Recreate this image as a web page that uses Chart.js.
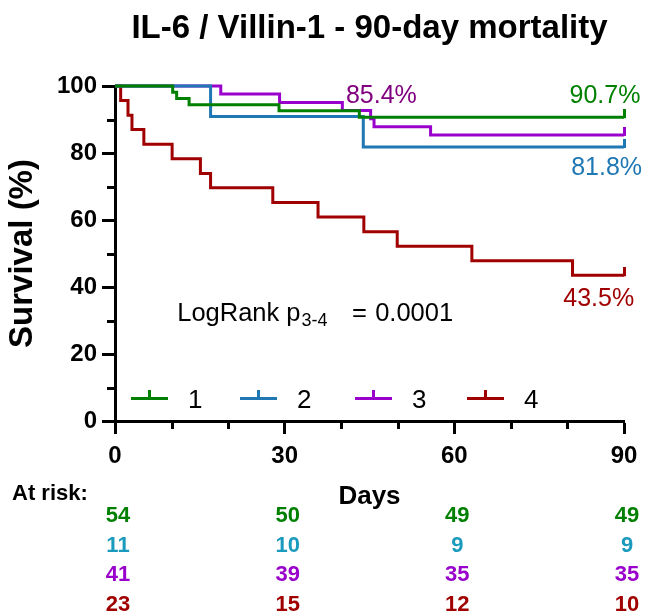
<!DOCTYPE html>
<html>
<head>
<meta charset="utf-8">
<script src="https://cdn.jsdelivr.net/npm/chart.js@4"></script>
<style>
  html, body { margin: 0; padding: 0; background: #fff; }
</style>
</head>
<body>
<canvas id="km" width="649" height="613"></canvas>
<script>
// Kaplan-Meier data (day, survival %)
const groupNames = ['1', '2', '3', '4'];
const groupColors = ['#008000', '#1f77b4', '#9900cc', '#a00000'];

const days1 = [0, 10.2, 10.9, 13.1, 29.0, 43.2, 90];
const surv1 = [100, 98.1, 96.3, 94.4, 92.6, 90.7, 90.7];

const days2 = [0, 16.9, 43.9, 90];
const surv2 = [100, 90.9, 81.8, 81.8];

const days3 = [0, 18.7, 29.1, 40.2, 45.2, 45.8, 55.8, 90];
const surv3 = [100, 97.6, 95.1, 92.7, 90.2, 87.8, 85.4, 85.4];

const days4 = [0, 1.0, 2.3, 3.0, 5.1, 10.1, 15.1, 16.9, 27.9, 35.9, 44.0, 49.9, 63.1, 80.9, 90];
const surv4 = [100, 95.7, 91.3, 87.0, 82.6, 78.3, 73.9, 69.6, 65.2, 60.9, 56.5, 52.2, 47.8, 43.5, 43.5];

const finalLabels = ['90.7%', '81.8%', '85.4%', '43.5%'];

const riskDays = [0, 30, 60, 90];
const risk1 = [54, 50, 49, 49];
const risk2 = [11, 10, 9, 9];
const risk3 = [41, 39, 35, 35];
const risk4 = [23, 15, 12, 10];

const xTicks = [0, 30, 60, 90];
const yTicks = [0, 20, 40, 60, 80, 100];

const FONT = '"Liberation Sans", Arial, sans-serif';
Chart.defaults.font.family = FONT;
Chart.defaults.color = '#000';

function toPoints(days, surv) {
    return days.map((d, i) => ({ x: d, y: surv[i] }));
}

// small vertical tick used as censor mark at the end of each curve
function censorMark(color) {
    const c = document.createElement('canvas');
    c.width = 3;
    c.height = 16;
    const g = c.getContext('2d');
    g.fillStyle = color;
    g.fillRect(0, 0, 3, 9);
    return c;
}

function makeSet(i, days, surv) {
    const last = days.length - 1;
    const mark = censorMark(groupColors[i]);
    return {
        label: groupNames[i],
        data: toPoints(days, surv),
        borderColor: groupColors[i],
        backgroundColor: groupColors[i],
        borderWidth: 3,
        stepped: 'before',
        fill: false,
        clip: false,
        pointStyle: mark,
        pointRadius: c => c.dataIndex === last ? 3 : 0,
        pointHoverRadius: 0
    };
}

// where the end-of-curve labels sit: [day, survival, align, colour]
const finalLabelPos = [
    [92.9, 94.9, 'right', '#008000'],
    [93.2, 73.4, 'right', '#1f77b4'],
    [47.1, 95.0, 'center', '#800080'],
    [91.8, 34.3, 'right', '#a00000']
];
const legendPos = [2.9, 22.1, 42.4, 62.3];
const riskColors = ['#008000', '#1a9bbe', '#9900cc', '#a00000'];

const overlay = {
    id: 'overlay',
    afterDraw(chart) {
        const { ctx, chartArea, scales } = chart;
        const x = scales.x, y = scales.y;
        ctx.save();

        // minor ticks
        ctx.strokeStyle = '#000';
        ctx.lineWidth = 3;
        ctx.beginPath();
        for (let v = 10; v < 100; v += 20) {
            const py = Math.round(y.getPixelForValue(v)) + 0.5;
            ctx.moveTo(chartArea.left - 8, py);
            ctx.lineTo(chartArea.left, py);
        }
        for (let v = 10; v < 90; v += 10) {
            if (v % 30 === 0) continue;
            const px = Math.round(x.getPixelForValue(v)) + 0.5;
            ctx.moveTo(px, chartArea.bottom);
            ctx.lineTo(px, chartArea.bottom + 8);
        }
        ctx.stroke();

        // final survival labels
        ctx.font = '25px ' + FONT;
        ctx.textBaseline = 'alphabetic';
        finalLabels.forEach((t, i) => {
            const p = finalLabelPos[i];
            ctx.fillStyle = p[3];
            ctx.textAlign = p[2];
            ctx.fillText(t, x.getPixelForValue(p[0]), y.getPixelForValue(p[1]));
        });

        // log-rank annotation
        let lx = x.getPixelForValue(11.0);
        const ly = y.getPixelForValue(29.9);
        ctx.fillStyle = '#000';
        ctx.textAlign = 'left';
        ctx.font = '25.5px ' + FONT;
        ctx.fillText('LogRank p', lx, ly);
        lx += ctx.measureText('LogRank p').width + 1;
        ctx.font = '18px ' + FONT;
        ctx.fillText('3-4', lx, ly + 5);
        ctx.font = '25.5px ' + FONT;
        ctx.fillText('=', x.getPixelForValue(41.9), ly);
        ctx.fillText('0.0001', x.getPixelForValue(46.0), ly);

        // legend inside plot
        const legY = Math.round(y.getPixelForValue(7));
        groupNames.forEach((n, i) => {
            const sx = Math.round(x.getPixelForValue(legendPos[i]));
            ctx.fillStyle = groupColors[i];
            ctx.fillRect(sx, legY - 1, 37, 3);
            ctx.fillRect(sx + 17, legY - 8, 3, 8);
            ctx.fillStyle = '#000';
            ctx.font = '26px ' + FONT;
            ctx.textAlign = 'left';
            ctx.fillText(n, sx + 57, legY + 10);
        });

        // number at risk table
        ctx.font = 'bold 22px ' + FONT;
        ctx.textAlign = 'left';
        ctx.fillStyle = '#000';
        ctx.fillText('At risk:', 12, chartArea.bottom + 79);
        ctx.textAlign = 'center';
        [risk1, risk2, risk3, risk4].forEach((row, r) => {
            ctx.fillStyle = riskColors[r];
            row.forEach((n, j) => {
                ctx.fillText(String(n), x.getPixelForValue(riskDays[j]) + 3, chartArea.bottom + 101 + r * 29.5);
            });
        });
        ctx.restore();
    }
};

const data = {
    datasets: [
        makeSet(0, days1, surv1),
        makeSet(1, days2, surv2),
        makeSet(2, days3, surv3),
        makeSet(3, days4, surv4)
    ]
};

const config = {
    type: 'line',
    data: data,
    options: {
        responsive: false,
        animation: false,
        devicePixelRatio: 1,
        layout: { padding: { left: 0, right: 25, top: 0, bottom: 0 } },
        plugins: {
            legend: { display: false },
            tooltip: { enabled: false },
            title: {
                display: true,
                text: 'IL-6 / Villin-1 - 90-day mortality',
                fullSize: false,
                color: '#000',
                font: { size: 33, weight: 'bold' },
                padding: { top: 9, bottom: 37.4 }
            }
        },
        scales: {
            x: {
                type: 'linear',
                min: 0,
                max: 90,
                afterFit: s => { s.height = 192; },
                border: { display: true, color: '#000', width: 3 },
                grid: {
                    drawOnChartArea: false,
                    drawTicks: true,
                    tickLength: 13,
                    tickWidth: 3,
                    tickColor: c => xTicks.includes(c.tick.value) ? '#000' : 'rgba(0,0,0,0)'
                },
                ticks: {
                    stepSize: 30,
                    autoSkip: false,
                    maxRotation: 0,
                    padding: 8,
                    font: { size: 24, weight: 'bold' },
                    color: '#000'
                },
                title: {
                    display: true,
                    text: 'Days',
                    color: '#000',
                    font: { size: 26, weight: 'bold' },
                    padding: { top: 0, bottom: 101 }
                }
            },
            y: {
                min: 0,
                max: 100,
                afterFit: s => { s.width = 115; },
                border: { display: true, color: '#000', width: 3 },
                grid: {
                    drawOnChartArea: false,
                    drawTicks: true,
                    tickLength: 13,
                    tickWidth: 3,
                    tickColor: c => yTicks.includes(c.tick.value) ? '#000' : 'rgba(0,0,0,0)'
                },
                ticks: {
                    stepSize: 20,
                    padding: 5,
                    font: { size: 24, weight: 'bold' },
                    color: '#000'
                },
                title: {
                    display: true,
                    text: 'Survival (%)',
                    color: '#000',
                    font: { size: 33, weight: 'bold' },
                    padding: { top: 3, bottom: 0 }
                }
            }
        }
    },
    plugins: [overlay]
};

const ch = new Chart(document.getElementById('km'), config);
</script>
</body>
</html>
